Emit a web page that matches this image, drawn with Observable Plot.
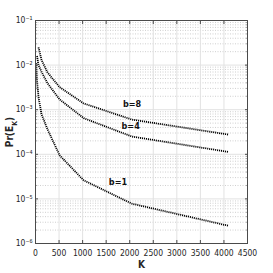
<!DOCTYPE html>
<html><head><meta charset="utf-8">
<script src="https://cdn.jsdelivr.net/npm/d3@7"></script>
<script src="https://cdn.jsdelivr.net/npm/@observablehq/plot@0.6"></script>
<style>body{margin:0;background:#fff}</style>
</head><body><div id="chart"></div>
<script>
// K values (powers of two) and Pr(E_K)
const kB8 = [64, 128, 256, 512, 1024, 2048, 4096];
const prB8 = [2.5e-2, 1.3e-2, 6.8e-3, 3.2e-3, 1.38e-3, 6.0e-4, 2.77e-4];
const kB4 = [32, 64, 128, 256, 512, 1024, 2048, 4096];
const prB4 = [1.6e-2, 1.0e-2, 7.1e-3, 3.9e-3, 1.7e-3, 6.45e-4, 2.5e-4, 1.13e-4];
const kB1 = [16, 32, 64, 128, 256, 512, 1024, 2048, 4096];
const prB1 = [1.1e-2, 4.5e-3, 1.9e-3, 7.9e-4, 3.6e-4, 9.5e-5, 2.6e-5, 7.8e-6, 2.5e-6];

const seriesNames = ["b=8", "b=4", "b=1"];
const labelK = [2050, 2020, 1750];
const labelPr = [1.33e-3, 4.3e-4, 2.4e-5];

const xTicks = [0, 500, 1000, 1500, 2000, 2500, 3000, 3500, 4000, 4500];
const yTicks = [1e-6, 1e-5, 1e-4, 1e-3, 1e-2, 1e-1];

const sup = {"-": "\u207B", "0": "\u2070", "1": "\u00B9", "2": "\u00B2", "3": "\u00B3", "4": "\u2074", "5": "\u2075", "6": "\u2076", "7": "\u2077", "8": "\u2078", "9": "\u2079"};
const fmt = d => "10" + String(Math.round(Math.log10(d))).replace(/./g, c => sup[c]);
const minor = d3.scaleLog().domain([1e-6, 1e-1]).ticks().filter(t => !yTicks.some(m => Math.abs(m - t) / t < 1e-9));

const data = [
  ...kB8.map((k, i) => ({K: k, Pr: prB8[i], b: seriesNames[0]})),
  ...kB4.map((k, i) => ({K: k, Pr: prB4[i], b: seriesNames[1]})),
  ...kB1.map((k, i) => ({K: k, Pr: prB1[i], b: seriesNames[2]}))
];
const labels = seriesNames.map((s, i) => ({t: s, K: labelK[i], Pr: labelPr[i]}));

const font = "'Liberation Sans Narrow', 'Arial Narrow', 'DejaVu Sans Condensed', 'Liberation Sans', sans-serif";
const axisColor = "#4a4a4a";

const chart = Plot.plot({
  width: 273, height: 273,
  marginLeft: 35, marginRight: 26, marginTop: 20, marginBottom: 30,
  style: {fontFamily: font, fontSize: "8.5px", color: "#262626", background: "#fff"},
  x: {domain: [0, 4500]},
  y: {type: "log", domain: [1e-6, 1e-1]},
  marks: [
    Plot.gridY(minor, {stroke: "#cfcfcf", strokeOpacity: 1, strokeDasharray: "1,1.5"}),
    Plot.gridY(yTicks, {stroke: "#e2e2e2", strokeOpacity: 1}),
    Plot.gridX(xTicks, {stroke: "#e2e2e2", strokeOpacity: 1}),
    Plot.line(data, {x: "K", y: "Pr", z: "b", stroke: "#000", strokeWidth: 1.8, strokeDasharray: "1.1,0.9", strokeLinecap: "butt"}),
    Plot.text(labels, {x: "K", y: "Pr", text: "t", fontSize: 9, fill: "#111", fontWeight: "bold"}),
    Plot.axisX(xTicks, {tickSize: 0, tickPadding: 6, tickFormat: d3.format("d"), label: null}),
    Plot.axisX(xTicks, {tickSize: -3, fill: "none", label: null, stroke: axisColor}),
    Plot.axisX(xTicks, {anchor: "top", tickSize: -3, fill: "none", label: null, stroke: axisColor}),
    Plot.axisY(yTicks, {tickSize: 0, tickPadding: 3, tickFormat: fmt, label: null}),
    Plot.axisY(yTicks, {tickSize: -3, fill: "none", label: null, stroke: axisColor}),
    Plot.axisY(yTicks, {anchor: "right", tickSize: -3, fill: "none", label: null, stroke: axisColor}),
    Plot.axisY(minor, {tickSize: -1.5, fill: "none", label: null, stroke: axisColor}),
    Plot.axisY(minor, {anchor: "right", tickSize: -1.5, fill: "none", label: null, stroke: axisColor}),
    Plot.frame({stroke: axisColor, strokeWidth: 1}),
    Plot.text(["K"], {frameAnchor: "bottom", dy: 24, fontSize: 10, fontWeight: "bold", fill: "#262626"})
  ]
});

const svg = d3.select(chart);
const yl = svg.append("text")
  .attr("transform", "translate(13,132) rotate(-90)")
  .attr("text-anchor", "middle")
  .attr("font-family", font)
  .attr("font-size", "10px")
  .attr("font-weight", "bold")
  .attr("fill", "#262626");
yl.append("tspan").text("Pr(E");
yl.append("tspan").attr("baseline-shift", "sub").attr("font-size", "7px").text("K");
yl.append("tspan").text(")");

document.getElementById("chart").appendChild(chart);
</script>
</body></html>
